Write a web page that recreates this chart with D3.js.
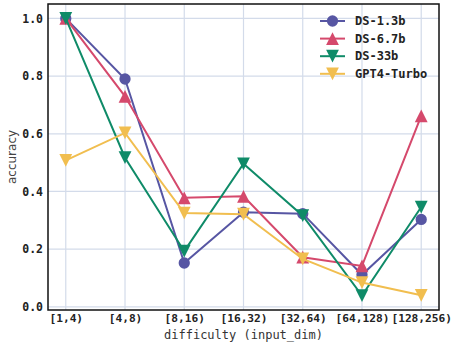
<!DOCTYPE html>
<html>
<head>
<meta charset="utf-8">
<script src="https://cdn.jsdelivr.net/npm/d3@7"></script>
<style>
  html, body { margin: 0; padding: 0; background: #fff; }
  svg { display: block; }
</style>
</head>
<body>
<svg id="chart" width="451" height="343"></svg>
<script>
// Difficulty buckets along the x axis
const categories = ["[1,4)", "[4,8)", "[8,16)", "[16,32)", "[32,64)", "[64,128)", "[128,256)"];

// Accuracy per model for each bucket
const ds13b  = [1.0, 0.79, 0.152, 0.328, 0.323, 0.111, 0.303];
const ds67b  = [1.0, 0.73, 0.378, 0.383, 0.172, 0.142, 0.662];
const ds33b  = [1.0, 0.517, 0.193, 0.496, 0.316, 0.039, 0.346];
const gpt4   = [0.508, 0.603, 0.325, 0.321, 0.166, 0.084, 0.04];

const yTicks = [0.0, 0.2, 0.4, 0.6, 0.8, 1.0];

const series = [
  { name: "DS-1.3b",    values: ds13b, color: "#5756a3", marker: "circle" },
  { name: "DS-6.7b",    values: ds67b, color: "#d5496c", marker: "up" },
  { name: "DS-33b",     values: ds33b, color: "#0f8b68", marker: "down" },
  { name: "GPT4-Turbo", values: gpt4,  color: "#f1be4f", marker: "down" }
];

const svg = d3.select("#chart");
const plot = { left: 48, right: 439, top: 4, bottom: 310 };

const n = categories.length;
const x = d3.scaleLinear().domain([-0.3, n - 1 + 0.3]).range([plot.left, plot.right]);
const y = d3.scaleLinear().domain([-0.011, 1.05]).range([plot.bottom, plot.top]);

const mono = "'DejaVu Sans Mono', monospace";
const gridColor = "#d3dbea";

// Grid lines
const g = svg.append("g");
g.selectAll(".vgrid").data(categories).enter().append("line")
  .attr("x1", (d, i) => x(i)).attr("x2", (d, i) => x(i))
  .attr("y1", plot.top).attr("y2", plot.bottom)
  .attr("stroke", gridColor).attr("stroke-width", 1.2);
g.selectAll(".hgrid").data(yTicks).enter().append("line")
  .attr("x1", plot.left).attr("x2", plot.right)
  .attr("y1", d => y(d)).attr("y2", d => y(d))
  .attr("stroke", gridColor).attr("stroke-width", 1.2);

// Axes (labels only, no tick marks)
const xAxis = d3.axisBottom(x)
  .tickValues(d3.range(n))
  .tickFormat(i => categories[i])
  .tickSize(0).tickPadding(4);
svg.append("g").attr("transform", `translate(0,${plot.bottom})`).call(xAxis)
  .call(a => a.select(".domain").remove())
  .selectAll("text")
  .attr("font-family", mono).attr("font-size", 11.2).attr("font-weight", "bold")
  .attr("fill", "#222");

const yAxis = d3.axisLeft(y)
  .tickValues(yTicks)
  .tickFormat(d3.format(".1f"))
  .tickSize(0).tickPadding(5);
svg.append("g").attr("transform", `translate(${plot.left},0)`).call(yAxis)
  .call(a => a.select(".domain").remove())
  .selectAll("text")
  .attr("font-family", mono).attr("font-size", 11.5).attr("font-weight", "bold")
  .attr("fill", "#222");

// Axis titles
svg.append("text")
  .attr("x", (plot.left + plot.right) / 2).attr("y", 339)
  .attr("text-anchor", "middle")
  .attr("font-family", mono).attr("font-size", 12).attr("fill", "#333")
  .text("difficulty (input_dim)");
svg.append("text")
  .attr("transform", `translate(16,${(plot.top + plot.bottom) / 2}) rotate(-90)`)
  .attr("text-anchor", "middle")
  .attr("font-family", "'DejaVu Sans', sans-serif").attr("font-size", 12).attr("fill", "#444")
  .text("accuracy");

// Marker shapes
function markerPath(type) {
  if (type === "circle") return d3.symbol(d3.symbolCircle, 100)();
  const s = 6.4;
  if (type === "up") return `M0,${-s}L${s},${s}L${-s},${s}Z`;
  return `M0,${s}L${s},${-s}L${-s},${-s}Z`;
}

const line = d3.line().x((d, i) => x(i)).y(d => y(d));

series.forEach(s => {
  const sg = svg.append("g");
  sg.append("path").datum(s.values)
    .attr("d", line).attr("fill", "none")
    .attr("stroke", s.color).attr("stroke-width", 2);
  sg.selectAll(".m").data(s.values).enter().append("path")
    .attr("d", markerPath(s.marker))
    .attr("transform", (d, i) => `translate(${x(i)},${y(d)})`)
    .attr("fill", s.color);
});

// Frame
svg.append("rect")
  .attr("x", plot.left).attr("y", plot.top)
  .attr("width", plot.right - plot.left).attr("height", plot.bottom - plot.top)
  .attr("fill", "none").attr("stroke", "#111").attr("stroke-width", 1.5);

// Legend
const legend = svg.append("g").attr("transform", "translate(320,21)");
series.forEach((s, i) => {
  const row = legend.append("g").attr("transform", `translate(0,${i * 17.6})`);
  row.append("line").attr("x1", 0).attr("x2", 25).attr("y1", 0).attr("y2", 0)
    .attr("stroke", s.color).attr("stroke-width", 2);
  row.append("path").attr("d", markerPath(s.marker))
    .attr("transform", "translate(12.5,0)").attr("fill", s.color);
  row.append("text").attr("x", 35).attr("y", 0).attr("dy", "0.35em")
    .attr("font-family", mono).attr("font-size", 12).attr("font-weight", "bold")
    .attr("fill", "#222").text(s.name);
});
</script>
</body>
</html>
